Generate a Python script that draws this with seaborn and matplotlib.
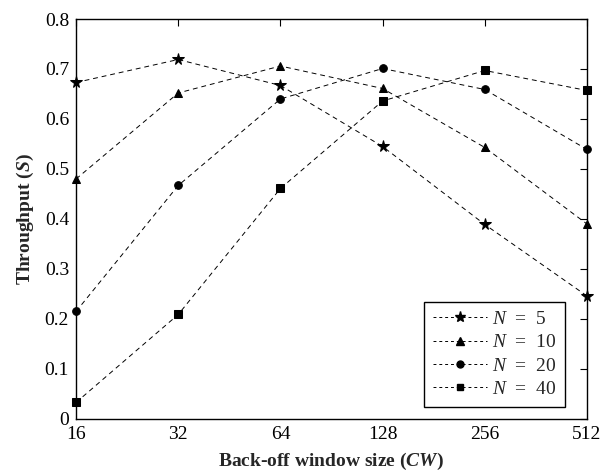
import matplotlib
matplotlib.use("Agg")
import matplotlib.pyplot as plt
import seaborn as sns
import pandas as pd
from matplotlib.ticker import FixedLocator, FixedFormatter, NullLocator
from matplotlib.lines import Line2D

# Contention window sizes and saturation throughput per number of stations
cw_sizes = [16, 32, 64, 128, 256, 512]
s_n5 = [0.673, 0.719, 0.667, 0.545, 0.389, 0.246]
s_n10 = [0.480, 0.652, 0.706, 0.661, 0.543, 0.390]
s_n20 = [0.215, 0.467, 0.640, 0.701, 0.659, 0.539]
s_n40 = [0.033, 0.209, 0.461, 0.636, 0.697, 0.657]
series_labels = ["$N$  =  5", "$N$  =  10", "$N$  =  20", "$N$  =  40"]
series_markers = ["*", "^", "o", "s"]
x_tick_labels = ["16", "32", "64", "128", "256", "512"]

sns.set_theme(style="white")
plt.rcParams["font.family"] = ["Liberation Serif", "DejaVu Serif"]
plt.rcParams["mathtext.fontset"] = "custom"
plt.rcParams["mathtext.rm"] = "Liberation Serif"
plt.rcParams["mathtext.it"] = "Liberation Serif:italic"
plt.rcParams["mathtext.bf"] = "Liberation Serif:bold:italic"

rows = []
for lab, vals in zip(series_labels, [s_n5, s_n10, s_n20, s_n40]):
    for cw, s in zip(cw_sizes, vals):
        rows.append({"CW": cw, "S": s, "series": lab})
df = pd.DataFrame(rows)

marker_sizes = {"*": 8.5, "^": 6, "o": 5.5, "s": 5.5}

fig = plt.figure(figsize=(6.01, 4.75), dpi=100)
ax = fig.add_axes([0.1265, 0.1179, 0.8502, 0.8421])

sns.lineplot(
    data=df, x="CW", y="S", hue="series", style="series",
    hue_order=series_labels, style_order=series_labels,
    palette=["black"] * 4,
    markers=dict(zip(series_labels, series_markers)),
    dashes={lab: (5, 4) for lab in series_labels},
    linewidth=0.7, markeredgecolor="black",
    ax=ax, legend=False, clip_on=False,
)
for line in ax.get_lines():
    m = line.get_marker()
    if m in marker_sizes:
        line.set_markersize(marker_sizes[m])

ax.set_xscale("log", base=2)
ax.set_xlim(16, 512)
ax.set_ylim(0, 0.8)
ax.xaxis.set_major_locator(FixedLocator(cw_sizes))
ax.xaxis.set_major_formatter(FixedFormatter(x_tick_labels))
ax.xaxis.set_minor_locator(NullLocator())
ax.set_yticks([0, 0.1, 0.2, 0.3, 0.4, 0.5, 0.6, 0.7, 0.8])
ax.set_yticklabels(["0", "0.1", "0.2", "0.3", "0.4", "0.5", "0.6", "0.7", "0.8"])

ax.tick_params(axis="both", which="both", direction="in", length=5, width=0.8,
               top=True, right=True, labelsize=14, pad=5, colors="black")
for sp in ax.spines.values():
    sp.set_color("black")
    sp.set_linewidth(1.0)

ax.set_xlabel("Back-off window size ($\\mathbf{CW}$)", fontsize=14, fontweight="bold", labelpad=6)
ax.set_ylabel("Throughput ($\\mathbf{S}$)", fontsize=14, fontweight="bold", labelpad=6)

handles = [Line2D([], [], color="black", linestyle=(0, (3, 3)), linewidth=0.7,
                  marker=m, markersize=marker_sizes[m] - 0.5, markerfacecolor="black",
                  markeredgecolor="black")
           for m in series_markers]
leg = ax.legend(handles, series_labels, loc="lower right", fontsize=14,
                frameon=True, fancybox=False, edgecolor="black", framealpha=1,
                handlelength=2.8, handletextpad=0.25, labelspacing=0.3,
                borderpad=0.45, borderaxespad=0.0,
                bbox_to_anchor=(0.957, 0.03))
leg.get_frame().set_linewidth(1.0)

fig.savefig("out.png", dpi=100, facecolor="white")
